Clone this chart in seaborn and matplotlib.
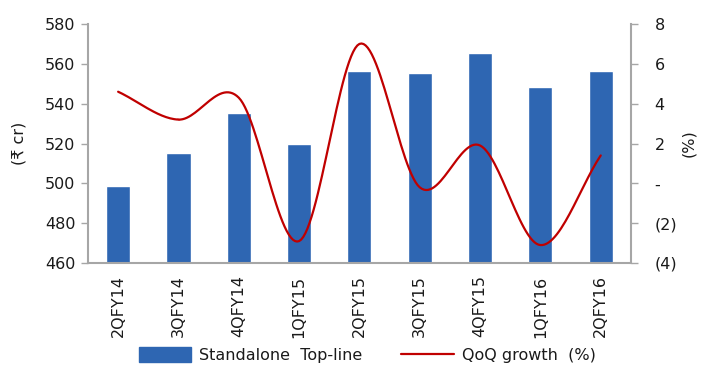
import numpy as np
import pandas as pd
import matplotlib
matplotlib.use("Agg")
import matplotlib.pyplot as plt
from matplotlib.lines import Line2D
from matplotlib.patches import Patch
import seaborn as sns

quarters = ["2QFY14", "3QFY14", "4QFY14", "1QFY15", "2QFY15",
            "3QFY15", "4QFY15", "1QFY16", "2QFY16"]
topline = [498.5, 515.0, 535.5, 520.0, 556.5, 555.5, 565.5, 548.5, 556.5]
qoq_growth = [4.6, 3.2, 4.3, -2.9, 7.0, -0.2, 1.9, -3.1, 1.4]
left_ticks = [460, 480, 500, 520, 540, 560, 580]
right_ticks = [-4, -2, 0, 2, 4, 6, 8]
right_labels = ["(4)", "(2)", "-", "2", "4", "6", "8"]

BAR = "#2E66B2"
LINE = "#C00000"
SPINE = "#A6A6A6"
TEXT = "#1A1A1A"
FS = 11.5

sns.set_theme(style="white")
plt.rcParams["font.family"] = ["DejaVu Sans"]
plt.rcParams["text.color"] = TEXT
plt.rcParams["xtick.color"] = TEXT
plt.rcParams["ytick.color"] = TEXT
plt.rcParams["axes.labelcolor"] = TEXT

df = pd.DataFrame({"quarter": quarters, "topline": topline})

fig = plt.figure(figsize=(7.06, 3.74), dpi=100)
ax = fig.add_axes([0.1246, 0.2968, 0.769, 0.639])

sns.barplot(data=df, x="quarter", y="topline", color=BAR, width=0.4,
            saturation=1, ax=ax)
ax.set_ylim(460, 580)
ax.set_xlim(-0.5, len(quarters) - 0.5)
ax.set_yticks(left_ticks)
ax.set_yticklabels([str(v) for v in left_ticks], fontsize=FS)
ax.set_xlabel("")
ax.set_ylabel("(₹ cr)", fontsize=FS, labelpad=13)
ax.set_xticks(range(len(quarters)))
ax.set_xticklabels(quarters, rotation=90, fontsize=FS)
ax.tick_params(axis="x", which="major", length=0, pad=9)
ax.set_xticks(np.arange(-0.5, len(quarters)), minor=True)
ax.tick_params(axis="x", which="minor", length=5, width=1, color=SPINE,
               direction="out")
ax.tick_params(axis="y", length=5, width=1, color=SPINE, direction="out",
               pad=4)

for side in ["top", "right"]:
    ax.spines[side].set_visible(False)
for side in ["left", "bottom"]:
    ax.spines[side].set_color(SPINE)
    ax.spines[side].set_linewidth(1.5)

# Smoothed growth line (Catmull-Rom through the quarterly values)
ax2 = ax.twinx()
x = np.arange(len(qoq_growth), dtype=float)
y = np.array(qoq_growth, dtype=float)
px = np.concatenate([[2 * x[0] - x[1]], x, [2 * x[-1] - x[-2]]])
py = np.concatenate([[2 * y[0] - y[1]], y, [2 * y[-1] - y[-2]]])
sx, sy = [], []
t = np.linspace(0, 1, 30)
for i in range(1, len(px) - 2):
    p0, p1, p2, p3 = px[i - 1], px[i], px[i + 1], px[i + 2]
    q0, q1, q2, q3 = py[i - 1], py[i], py[i + 1], py[i + 2]
    cx = 0.5 * ((2 * p1) + (-p0 + p2) * t + (2 * p0 - 5 * p1 + 4 * p2 - p3) * t ** 2
                + (-p0 + 3 * p1 - 3 * p2 + p3) * t ** 3)
    cy = 0.5 * ((2 * q1) + (-q0 + q2) * t + (2 * q0 - 5 * q1 + 4 * q2 - q3) * t ** 2
                + (-q0 + 3 * q1 - 3 * q2 + q3) * t ** 3)
    sx.extend(cx)
    sy.extend(cy)
ax2.plot(sx, sy, color=LINE, linewidth=1.6)
ax2.set_ylim(-4, 8)
ax2.set_yticks(right_ticks)
ax2.set_yticklabels(right_labels, fontsize=FS)
ax2.set_ylabel("(%)", fontsize=FS, labelpad=3)
ax2.tick_params(axis="y", length=5, width=1, color=SPINE, direction="out",
                pad=12)
for side in ["top", "left", "bottom"]:
    ax2.spines[side].set_visible(False)
ax2.spines["right"].set_color(SPINE)
ax2.spines["right"].set_linewidth(1.5)
ax2.grid(False)

handles = [Patch(facecolor=BAR, edgecolor=BAR),
           Line2D([0], [0], color=LINE, linewidth=1.6)]
fig.legend(handles, ["Standalone  Top-line", "QoQ growth  (%)"],
           loc="center", bbox_to_anchor=(0.52, 0.05), ncol=2, frameon=False,
           fontsize=FS, handlelength=3.3, handleheight=1.0, handletextpad=0.5,
           columnspacing=2.4)

fig.savefig("out.png", dpi=100)
